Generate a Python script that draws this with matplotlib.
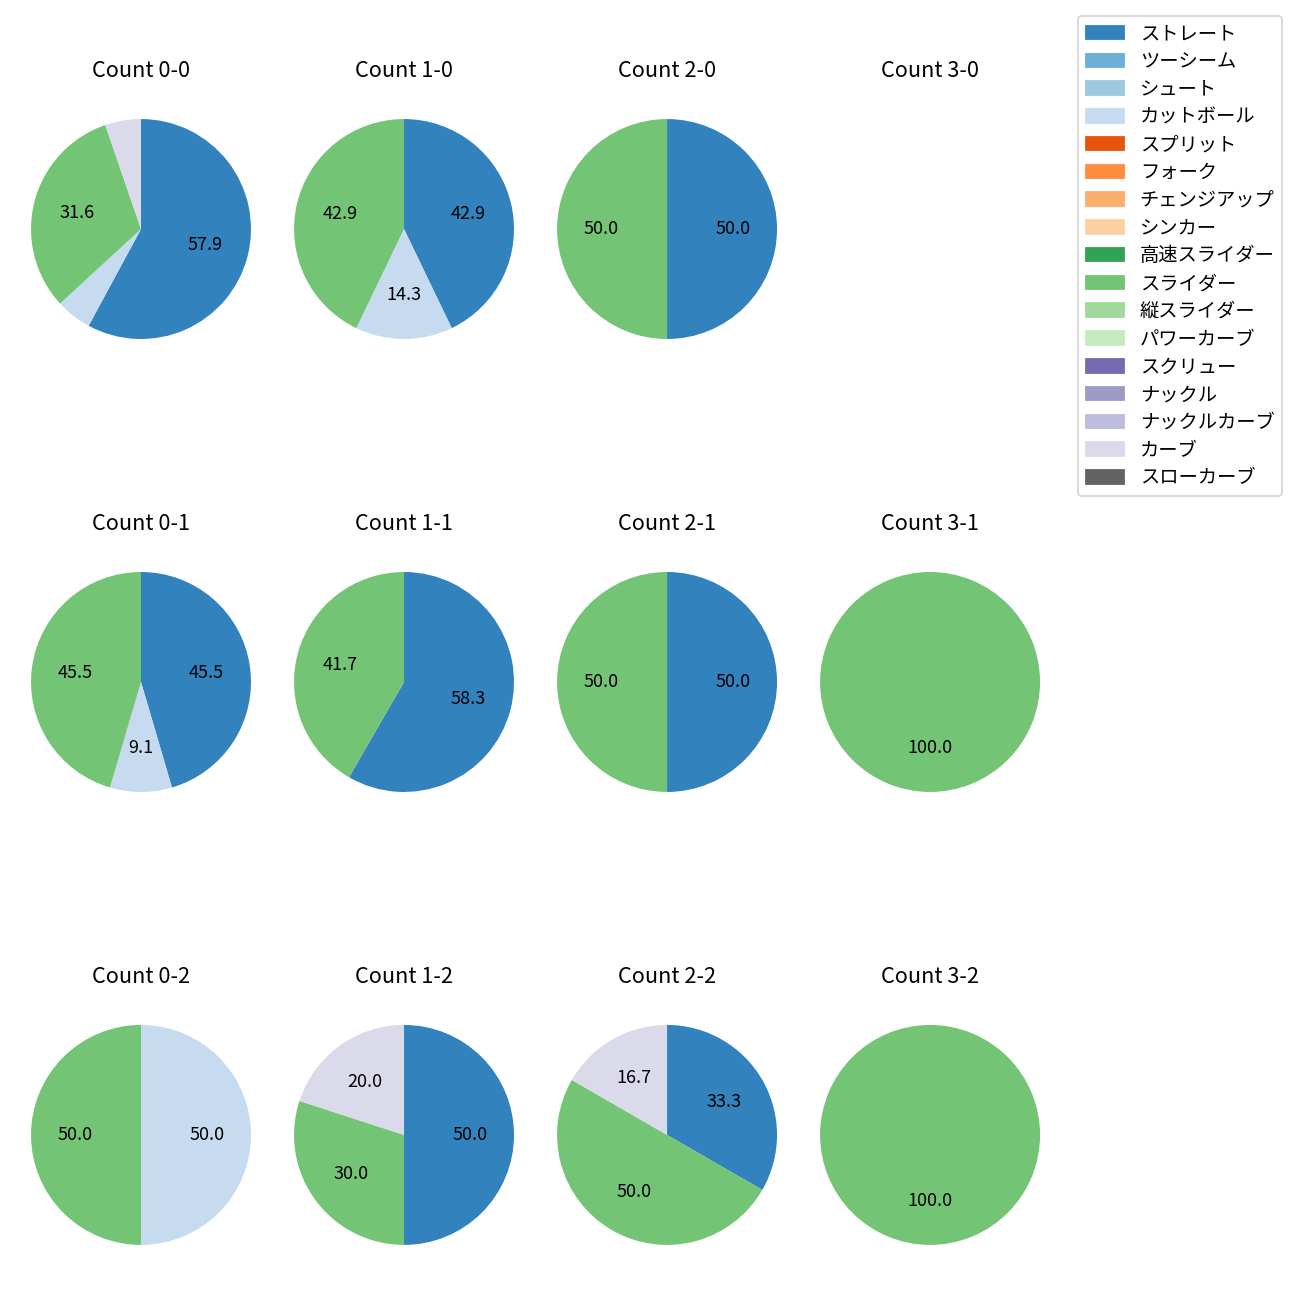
import matplotlib
matplotlib.use("Agg")
import matplotlib.pyplot as plt
from matplotlib.patches import Patch

plt.rcParams["font.family"] = ["Noto Sans CJK JP", "DejaVu Sans"]

pitch_names = [
    "ストレート", "ツーシーム", "シュート", "カットボール", "スプリット",
    "フォーク", "チェンジアップ", "シンカー", "高速スライダー", "スライダー",
    "縦スライダー", "パワーカーブ", "スクリュー", "ナックル", "ナックルカーブ",
    "カーブ", "スローカーブ",
]

# pitches per count: (balls-strikes) -> {pitch: number}
counts = {
    "0-0": {"ストレート": 11, "カットボール": 1, "スライダー": 6, "カーブ": 1},
    "1-0": {"ストレート": 3, "カットボール": 1, "スライダー": 3},
    "2-0": {"ストレート": 1, "スライダー": 1},
    "3-0": {},
    "0-1": {"ストレート": 5, "カットボール": 1, "スライダー": 5},
    "1-1": {"ストレート": 7, "スライダー": 5},
    "2-1": {"ストレート": 1, "スライダー": 1},
    "3-1": {"スライダー": 1},
    "0-2": {"カットボール": 1, "スライダー": 1},
    "1-2": {"ストレート": 5, "スライダー": 3, "カーブ": 2},
    "2-2": {"ストレート": 2, "スライダー": 3, "カーブ": 1},
    "3-2": {"スライダー": 1},
}
balls = [0, 1, 2, 3]
strikes = [0, 1, 2]

cmap = plt.get_cmap("tab20c")
colors = {name: cmap(i) for i, name in enumerate(pitch_names)}


def pct(p):
    return f"{p:.1f}" if p >= 8 else ""


fig, axes = plt.subplots(3, 4, figsize=(10, 10))
fig.subplots_adjust(left=0.0154, right=0.8085, top=0.9323, bottom=0.0185,
                    wspace=0.087, hspace=0.606)
fw, fh = fig.get_size_inches()

for r, s in enumerate(strikes):
    for c, b in enumerate(balls):
        ax = axes[r, c]
        key = f"{b}-{s}"
        data = counts[key]
        ax.set_title(f"Count {key}", fontsize=12)
        if data:
            names = [n for n in pitch_names if n in data]
            vals = [data[n] for n in names]
            ax.pie(vals, colors=[colors[n] for n in names], startangle=90,
                   counterclock=False, autopct=pct, textprops={"fontsize": 10})
        ax.set_aspect("auto")
        pos = ax.get_position()
        w = pos.width * fw
        h = pos.height * fh
        ax.set_xlim(-1.1, 1.1)
        ax.set_ylim(-1.1 * h / w, 1.1 * h / w)
        ax.axis("off")

handles = [Patch(color=colors[n]) for n in pitch_names]
fig.legend(handles, pitch_names, loc="upper right",
           bbox_to_anchor=(0.9938, 0.9954), fontsize=10.7, labelspacing=0.35)

plt.savefig("out.png", dpi=130)
plt.close()
